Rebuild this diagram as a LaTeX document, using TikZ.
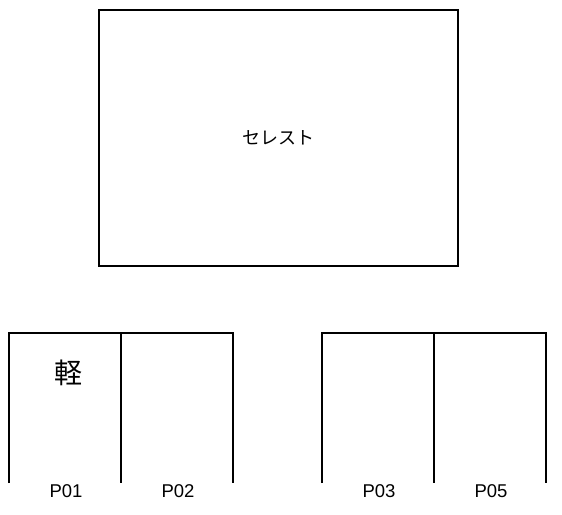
\documentclass[tikz,border=0pt]{standalone}
\usepackage{fontspec}
\setmainfont{Liberation Sans}
\newfontfamily\jpfont{Noto Sans CJK JP}

\tikzset{
  pics/stall_row/.style args={#1,#2}{
     code={
        \draw (0,-150) -- (0,0) -- (224,0) -- (224,-150);
        \draw (112,0) -- (112,-150);
        \node[inner sep=0pt] (#1) at (57,-158) {#1};
        \node[inner sep=0pt] (#2) at (169,-158) {#2};
     }
  }
}

\begin{document}
\begin{tikzpicture}[x=1pt, y=1pt, line width=1.8pt, font=\fontsize{18.5}{20}\selectfont]
            \useasboundingbox (0,0) rectangle (562,-514);
            \node[draw, minimum width=359pt, minimum height=256pt, font=\jpfont\fontsize{18}{20}\selectfont] (celeste) at (278.5,-138) {セレスト};
            \draw (9,-333) pic{stall_row={P01,P02}};
            \draw (322,-333) pic{stall_row={P03,P05}};
            \node[inner sep=0pt, font=\jpfont\fontsize{28}{30}\selectfont] (kei) at (68,-373) {軽};
        \end{tikzpicture}
\end{document}
